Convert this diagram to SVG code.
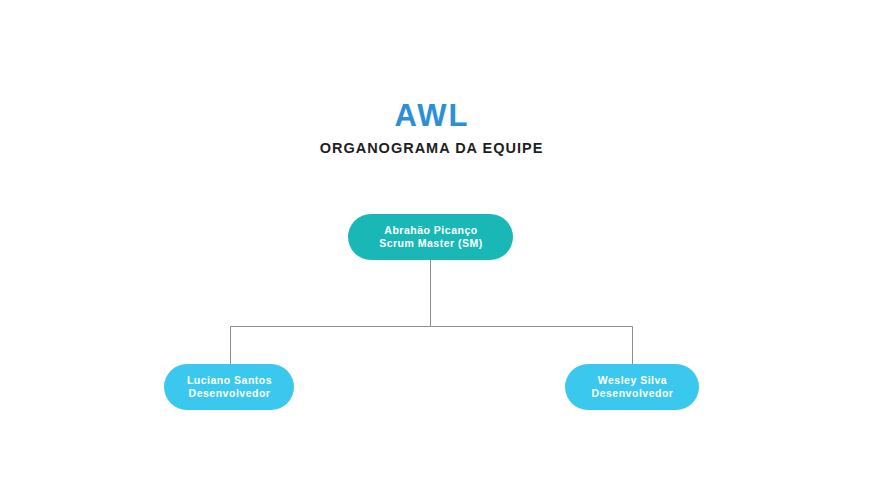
<svg xmlns="http://www.w3.org/2000/svg" width="875" height="486" viewBox="0 0 875 486">
<style>
.t{font-family:"Liberation Sans",Arial,sans-serif;font-weight:bold;text-anchor:middle}
.n{font-family:"Liberation Sans",Arial,sans-serif;font-weight:bold;font-size:10.5px;letter-spacing:0.5px;fill:#ffffff;text-anchor:middle}
.c{fill:none;stroke:#8c8c8c;stroke-width:1}
</style>
<rect width="875" height="486" fill="#ffffff"/>
<text class="t" x="432" y="126" font-size="31" letter-spacing="2" fill="#2d8fd6">AWL</text>
<text class="t" x="431.5" y="153" font-size="14.5" letter-spacing="1" fill="#1f1f1f">ORGANOGRAMA DA EQUIPE</text>
<g id="connectors">
<path class="c" d="M430.5 260 V326.5 H230.5 V364"/>
<path class="c" d="M430.5 326.5 H632.5 V364"/>
</g>
<g id="sm">
<rect x="348" y="214" width="165" height="46" rx="23" fill="#19b8b6"/>
<text class="n" x="431" y="234">Abrahão Picanço</text>
<text class="n" x="431" y="247">Scrum Master (SM)</text>
</g>
<g id="luciano">
<rect x="164" y="364" width="130" height="46" rx="23" fill="#3bc8ee"/>
<text class="n" x="229.5" y="384">Luciano Santos</text>
<text class="n" x="229.5" y="397">Desenvolvedor</text>
</g>
<g id="wesley">
<rect x="565" y="364" width="134" height="46" rx="23" fill="#3bc8ee"/>
<text class="n" x="632.5" y="384">Wesley Silva</text>
<text class="n" x="632.5" y="397">Desenvolvedor</text>
</g>
</svg>
